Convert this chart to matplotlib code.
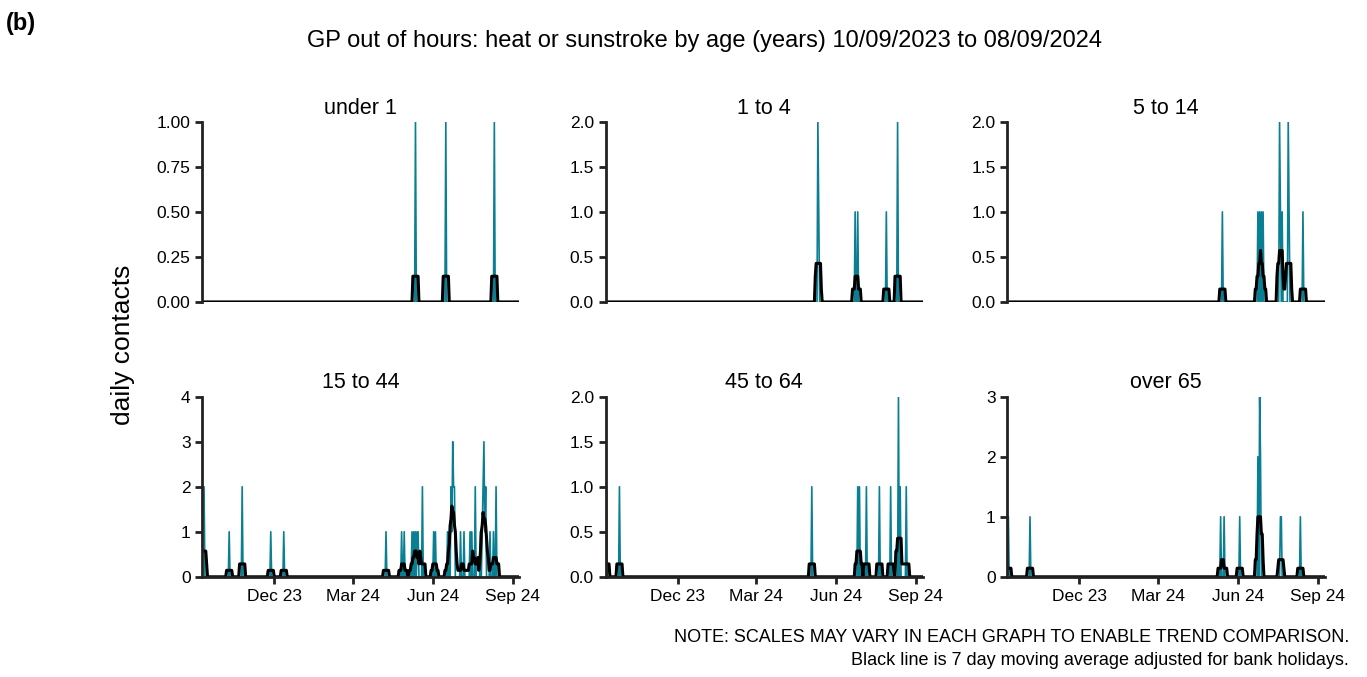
import numpy as np
import pandas as pd
import matplotlib
matplotlib.use("Agg")
import matplotlib.pyplot as plt
import matplotlib.dates as mdates
from matplotlib.ticker import FormatStrFormatter

plt.rcParams["font.family"] = ["Liberation Sans", "DejaVu Sans"]

dates = pd.date_range("2023-09-10", "2024-09-08", freq="D")

# spike days (offset from 10/09/2023) and daily counts
PANELS = ["under 1", "1 to 4", "5 to 14", "15 to 44", "45 to 64", "over 65"]
days_u1 = [245, 280, 336]
vals_u1 = [1, 1, 1]
days_1_4 = [244, 245, 287, 290, 323, 336]
vals_1_4 = [2, 1, 1, 1, 1, 2]
days_5_14 = [247, 288, 290, 292, 294, 313, 314, 316, 323, 324, 340]
vals_5_14 = [1, 1, 1, 1, 1, 2, 1, 1, 2, 1, 1]
days_15_44 = [0, 1, 30, 45, 78, 93, 211, 229, 232, 241, 243, 245, 247, 248, 253,
              266, 268, 282, 284, 286, 287, 288, 289, 290, 297, 301, 308, 310, 314, 320,
              322, 323, 324, 325, 326, 331, 335, 338]
vals_15_44 = [2, 2, 1, 2, 1, 1, 1, 1, 1, 1, 1, 1, 1, 1, 2,
              1, 1, 1, 1, 2, 1, 3, 2, 2, 1, 1, 1, 1, 2, 1,
              1, 2, 3, 1, 2, 1, 1, 2]
days_45_64 = [0, 15, 237, 290, 292, 300, 315, 328, 337, 339, 346]
vals_45_64 = [1, 1, 1, 1, 1, 1, 1, 1, 2, 1, 1]
days_65 = [0, 25, 245, 249, 267, 288, 290, 291, 314, 315, 337]
vals_65 = [1, 1, 1, 1, 1, 2, 3, 2, 1, 1, 1]

ALL_DAYS = [days_u1, days_1_4, days_5_14, days_15_44, days_45_64, days_65]
ALL_VALS = [vals_u1, vals_1_4, vals_5_14, vals_15_44, vals_45_64, vals_65]
YMAX = [1.0, 2.0, 2.0, 4, 2.0, 3]
YTICKS = [[0, 0.25, 0.5, 0.75, 1.0], [0, 0.5, 1, 1.5, 2], [0, 0.5, 1, 1.5, 2],
          [0, 1, 2, 3, 4], [0, 0.5, 1, 1.5, 2], [0, 1, 2, 3]]
YFMT = ["%.2f", "%.1f", "%.1f", "%d", "%.1f", "%d"]

TEAL = "#0a7f93"
AXCOL = "#222222"

fig = plt.figure(figsize=(13.67, 6.77), dpi=100)
lefts = [0.148, 0.443, 0.737]
bottoms = [0.554, 0.148]

for i, name in enumerate(PANELS):
    r, c = divmod(i, 3)
    ax = fig.add_axes([lefts[c], bottoms[r], 0.232, 0.266])
    y = np.zeros(len(dates))
    for d, v in zip(ALL_DAYS[i], ALL_VALS[i]):
        y[d] += v
    ma = np.convolve(y, np.ones(7) / 7, mode="same")
    ax.plot(dates, y, color=TEAL, lw=1.2)
    ax.plot(dates, ma, color="black", lw=2.2)
    ax.set_xlim(dates[0] - pd.Timedelta(days=1), dates[-1] + pd.Timedelta(days=1))
    ax.set_ylim(0, YMAX[i])
    ax.set_yticks(YTICKS[i])
    ax.yaxis.set_major_formatter(FormatStrFormatter(YFMT[i]))
    ax.spines[["top", "right"]].set_visible(False)
    ax.spines["left"].set_linewidth(2)
    ax.spines["left"].set_color(AXCOL)
    ax.tick_params(axis="y", labelsize=12.5, width=2, length=5, color=AXCOL)
    ax.set_title(name, fontsize=15.5, pad=6)
    if r == 0:
        ax.spines["bottom"].set_visible(False)
        ax.set_xticks([])
    else:
        ax.spines["bottom"].set_linewidth(2)
        ax.spines["bottom"].set_color(AXCOL)
        ax.set_xticks(pd.to_datetime(["2023-12-01", "2024-03-01", "2024-06-01", "2024-09-01"]))
        ax.xaxis.set_major_formatter(mdates.DateFormatter("%b %y"))
        ax.tick_params(axis="x", labelsize=12.5, width=2, length=5, color=AXCOL)

fig.text(0.004, 0.965, "(b)", fontsize=17, fontweight="bold", ha="left", va="center")
fig.text(0.515, 0.94, "GP out of hours: heat or sunstroke by age (years) 10/09/2023 to 08/09/2024",
         fontsize=17, ha="center", va="center")
fig.text(0.09, 0.49, "daily contacts", fontsize=19, rotation=90, ha="center", va="center")
fig.text(0.987, 0.058, "NOTE: SCALES MAY VARY IN EACH GRAPH TO ENABLE TREND COMPARISON.",
         fontsize=13, ha="right", va="center")
fig.text(0.987, 0.024, "Black line is 7 day moving average adjusted for bank holidays.",
         fontsize=13, ha="right", va="center")

fig.savefig("out.png", dpi=100)
